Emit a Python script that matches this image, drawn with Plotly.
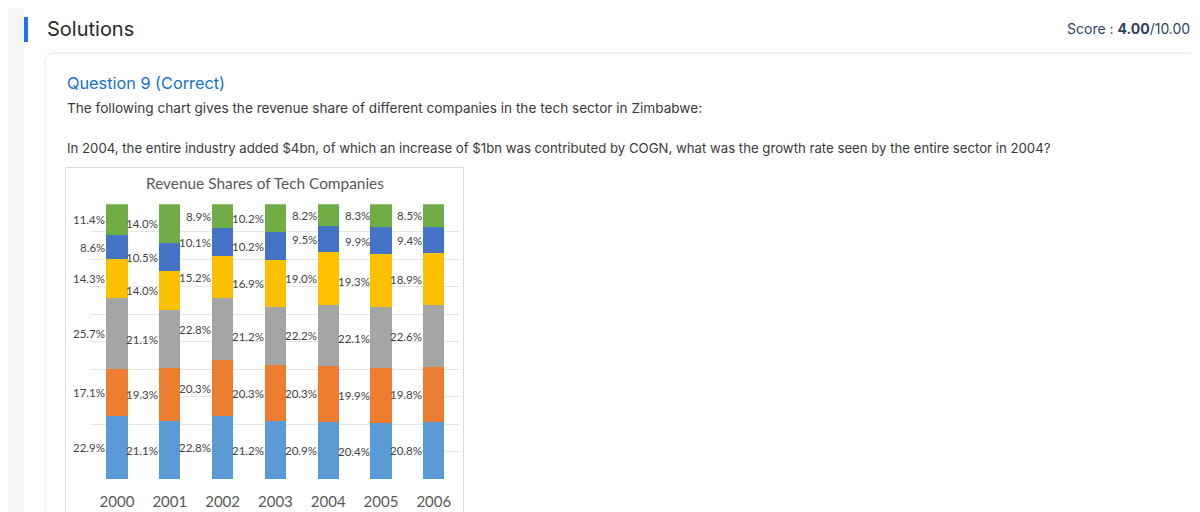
import plotly.graph_objects as go

# the page body has an 8px margin, so the figure sits at (8, 8) in the window
OFF = 8
W, H = 1200 - OFF, 512 - OFF

years = ['2000', '2001', '2002', '2003', '2004', '2005', '2006']
# stacked from bottom to top
company_a = [22.9, 21.1, 22.8, 21.2, 20.9, 20.4, 20.8]
company_b = [17.1, 19.3, 20.3, 20.3, 20.3, 19.9, 19.8]
company_c = [25.7, 21.1, 22.8, 21.2, 22.2, 22.1, 22.6]
company_d = [14.3, 14.0, 15.2, 16.9, 19.0, 19.3, 18.9]
company_e = [8.6, 10.5, 10.1, 10.2, 9.5, 9.9, 9.4]
company_f = [11.4, 14.0, 8.9, 10.2, 8.2, 8.3, 8.5]

series = [
    ('Company A', company_a, '#5b9bd5'),
    ('Company B', company_b, '#ed7d31'),
    ('Company C', company_c, '#a5a5a5'),
    ('Company D', company_d, '#ffc000'),
    ('Company E', company_e, '#4472c4'),
    ('Company F', company_f, '#70ad47'),
]


def px_x(x):
    # window pixel -> paper fraction
    return (x - OFF) / W


def px_y(y):
    return 1 - (y - OFF) / H


fig = go.Figure()
xs = list(range(len(years)))
annotations = []
base = [0.0] * len(years)
for name, vals, color in series:
    fig.add_trace(go.Bar(x=xs, y=vals, name=name, marker_color=color,
                         marker_line_width=0, width=0.4, showlegend=False))
    for i, v in enumerate(vals):
        annotations.append(dict(
            x=i, y=base[i] + v / 2, xref='x', yref='y', text=f'{v:.1f}%',
            showarrow=False, xanchor='right', yanchor='middle', xshift=-9.5,
            font=dict(family='Lato', size=11.5, color='#444444')))
        base[i] += v

text_font = dict(family='Inter', color='#3a3a3a')
annotations += [
    dict(x=px_x(45), y=px_y(29), xref='paper', yref='paper', text='Solutions',
         showarrow=False, xanchor='left', yanchor='middle',
         font=dict(family='Inter', size=20, color='#2b2b2b')),
    dict(x=px_x(1192), y=px_y(29), xref='paper', yref='paper',
         text='Score : <b>4.00</b>/10.00', showarrow=False, xanchor='right',
         yanchor='middle', font=dict(family='Inter', size=14, color='#2c4462')),
    dict(x=px_x(65), y=px_y(83), xref='paper', yref='paper', text='Question 9 (Correct)',
         showarrow=False, xanchor='left', yanchor='middle',
         font=dict(family='Inter', size=16.3, color='#1570d6')),
    dict(x=px_x(65), y=px_y(108), xref='paper', yref='paper',
         text='The following chart gives the revenue share of different companies in the tech sector in Zimbabwe:',
         showarrow=False, xanchor='left', yanchor='middle', font=dict(size=13.6, **text_font)),
    dict(x=px_x(65), y=px_y(148), xref='paper', yref='paper',
         text='In 2004, the entire industry added $4bn, of which an increase of $1bn was contributed by COGN, '
              'what was the growth rate seen by the entire sector in 2004?',
         showarrow=False, xanchor='left', yanchor='middle', font=dict(size=13.2, **text_font)),
    dict(x=px_x(265), y=px_y(183), xref='paper', yref='paper',
         text='Revenue Shares of Tech Companies', showarrow=False, xanchor='center',
         yanchor='middle', font=dict(family='Lato', size=15.4, color='#595959')),
]

shapes = [
    dict(type='rect', xref='paper', yref='paper', x0=0, x1=px_x(24), y0=0, y1=1,
         fillcolor='#f4f5f7', line_width=0, layer='below'),
    dict(type='rect', xref='paper', yref='paper', x0=px_x(24), x1=px_x(28), y0=px_y(42), y1=px_y(17),
         fillcolor='#1a73e8', line_width=0, layer='below'),
    dict(type='path', xref='paper', yref='paper', layer='below',
         path=f'M {px_x(45)},{px_y(530)} L {px_x(45)},{px_y(63)} '
              f'Q {px_x(45)},{px_y(53)} {px_x(55)},{px_y(53)} '
              f'L {px_x(1187)},{px_y(53)} Q {px_x(1197)},{px_y(53)} {px_x(1197)},{px_y(63)} '
              f'L {px_x(1197)},{px_y(530)}',
         line=dict(color='#e6e6e6', width=1)),
    dict(type='rect', xref='paper', yref='paper', x0=px_x(65.5), x1=px_x(463.5),
         y0=px_y(530), y1=px_y(167.5), line=dict(color='#dadada', width=1), layer='below'),
]

fig.update_layout(
    width=W, height=H, barmode='stack', bargap=0,
    margin=dict(l=0, r=0, t=0, b=0),
    paper_bgcolor='white', plot_bgcolor='rgba(0,0,0,0)',
    annotations=annotations, shapes=shapes,
    xaxis=dict(domain=[px_x(90), px_x(460)], range=[-0.511, 6.496],
               tickvals=xs, ticktext=years, ticks='outside', ticklen=9,
               tickcolor='rgba(0,0,0,0)', showgrid=False, zeroline=False, showline=False,
               tickfont=dict(family='Lato', size=15, color='#595959'), fixedrange=True),
    yaxis=dict(domain=[px_y(479.3), px_y(204.3)], range=[0, 100], dtick=10,
               showgrid=True, gridcolor='#e6e6e6', gridwidth=1, zeroline=False,
               showticklabels=False, showline=False, fixedrange=True),
)

fig.write_html('out.html')
